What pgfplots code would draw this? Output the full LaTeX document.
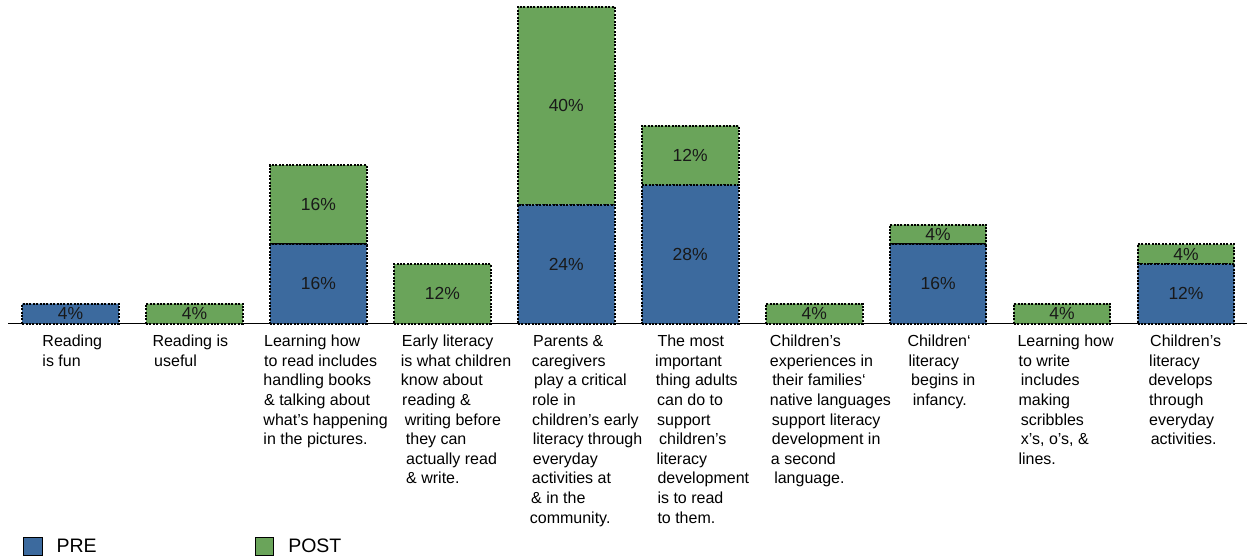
\documentclass[border=0pt]{standalone}
\usepackage{fontspec}
\setmainfont{Liberation Sans}
\usepackage{pgfplots}
\pgfplotsset{compat=1.18}
\usepackage{pgfplotstable}
\definecolor{preblue}{HTML}{3C6A9E}
\definecolor{postgreen}{HTML}{6AA45A}
\newcommand{\lbl}[2]{\begin{tabular}{@{\hspace{#1}}l@{}}#2\end{tabular}}
\newcommand{\ind}[1]{\hspace*{#1pt}}

\pgfplotstableread{
x pre post
0 4 0
1 0 4
2 16 16
3 0 12
4 24 40
5 28 12
6 0 4
7 16 4
8 0 4
9 12 4
}\datatable

% label positions (segment midpoints) and the printed percentage
\pgfplotstableread{
x y v
0 2 4
1 2 4
2 8 16
2 24 16
3 6 12
4 12 24
4 44 40
5 14 28
5 34 12
6 2 4
7 8 16
7 18 4
8 2 4
9 6 12
9 14 4
}\labeltable

\begin{document}
\begin{tikzpicture}
\path[use as bounding box] (-8.5pt,-234.5pt) rectangle (1238.5pt,323.5pt);
\pgfplotsset{base/.style={width=1239.4pt, height=323.2pt, scale only axis,
  xmin=-0.5, xmax=9.5, ymin=0, ymax=65.3, clip=false,
  at={(0pt,0pt)}, anchor=south west}}
\begin{axis}[base, ybar stacked, bar width=96.7pt,
  axis x line=bottom, axis y line=none,
  x axis line style={-, line width=1pt, black},
  xtick={0,...,9}, major tick length=0pt, ytick=\empty,
  xticklabels={
   {\lbl{-28.2pt}{Reading\\is fun}},
   {\lbl{-42.1pt}{Reading is\\\ind{1.7}useful}},
   {\lbl{-55.1pt}{\ind{0.7}Learning how\\\ind{0.7}to read includes\\handling books\\\ind{0.7}\& talking about\\what’s happening\\in the pictures.}},
   {\lbl{-41.6pt}{\ind{1}Early literacy\\is what children\\know about\\\ind{1.3}reading \&\\\ind{4}writing before\\\ind{5}they can\\\ind{5.3}actually read\\\ind{5.3}\& write.}},
   {\lbl{-36.6pt}{\ind{3.3}Parents \&\\\ind{2}caregivers\\\ind{4.3}play a critical\\\ind{2.3}role in\\\ind{2.3}children’s early\\\ind{3}literacy through\\\ind{3}everyday\\\ind{2}activities at\\\ind{1.3}\& in the\\community.}},
   {\lbl{-35.2pt}{\ind{2.3}The most\\important\\\ind{0.7}thing adults\\\ind{2}can do to\\\ind{2}support\\\ind{4}children’s\\\ind{1.3}literacy\\\ind{2.3}development\\\ind{2.3}is to read\\\ind{2.3}to them.}},
   {\lbl{-44.4pt}{Children’s\\experiences in\\\ind{2.3}their families‘\\native languages\\\ind{2}support literacy\\\ind{2}development in\\\ind{1}a second\\\ind{4.3}language.}},
   {\lbl{-30.8pt}{Children‘\\\ind{1}literacy\\\ind{3.7}begins in\\\ind{5.3}infancy.}},
   {\lbl{-44.7pt}{Learning how\\\ind{1}to write\\\ind{3.3}includes\\\ind{1}making\\\ind{3.3}scribbles\\\ind{3.3}x’s, o’s, \&\\\ind{1}lines.}},
   {\lbl{-37.7pt}{\ind{1.7}Children’s\\\ind{0.7}literacy\\develops\\\ind{0.7}through\\\ind{0.7}everyday\\\ind{2.3}activities.}}
  },
  xticklabel style={anchor=north west, inner sep=0pt, yshift=-9.2pt,
    font=\fontsize{16}{19.6}\selectfont},
  legend columns=2,
  legend image code/.code={\draw[#1, solid, draw=black, line width=1pt] (0pt,-9.3pt) rectangle (18.6pt,9.3pt);},
  legend style={draw=none, fill=none, inner sep=0pt, outer sep=0pt,
    at={(axis description cs:0.0117,-0.690)}, anchor=west,
    font=\fontsize{19.5}{22}\selectfont,
    nodes={inner sep=0pt},
    /tikz/every odd column/.append style={column sep=14pt},
    /tikz/every even column/.append style={column sep=158pt}},
]
\addplot[fill=preblue, draw=black, line width=2pt, dash pattern=on 2pt off 1.4pt]
  table[x=x, y=pre] {\datatable};
\addplot[fill=postgreen, draw=black, line width=2pt, dash pattern=on 2pt off 1.4pt]
  table[x=x, y=post] {\datatable};
\legend{PRE, POST}
\end{axis}
\begin{axis}[base, hide axis, /pgf/number format/assume math mode=true]
\addplot[draw=none, mark=none, point meta=explicit,
  nodes near coords={\pgfmathprintnumber{\pgfplotspointmeta}\%},
  every node near coord/.style={anchor=center, inner sep=0pt,
    font=\fontsize{17.5}{20}\selectfont, text=black!90}]
  table[x=x, y=y, meta=v] {\labeltable};
\end{axis}
\end{tikzpicture}
\end{document}
